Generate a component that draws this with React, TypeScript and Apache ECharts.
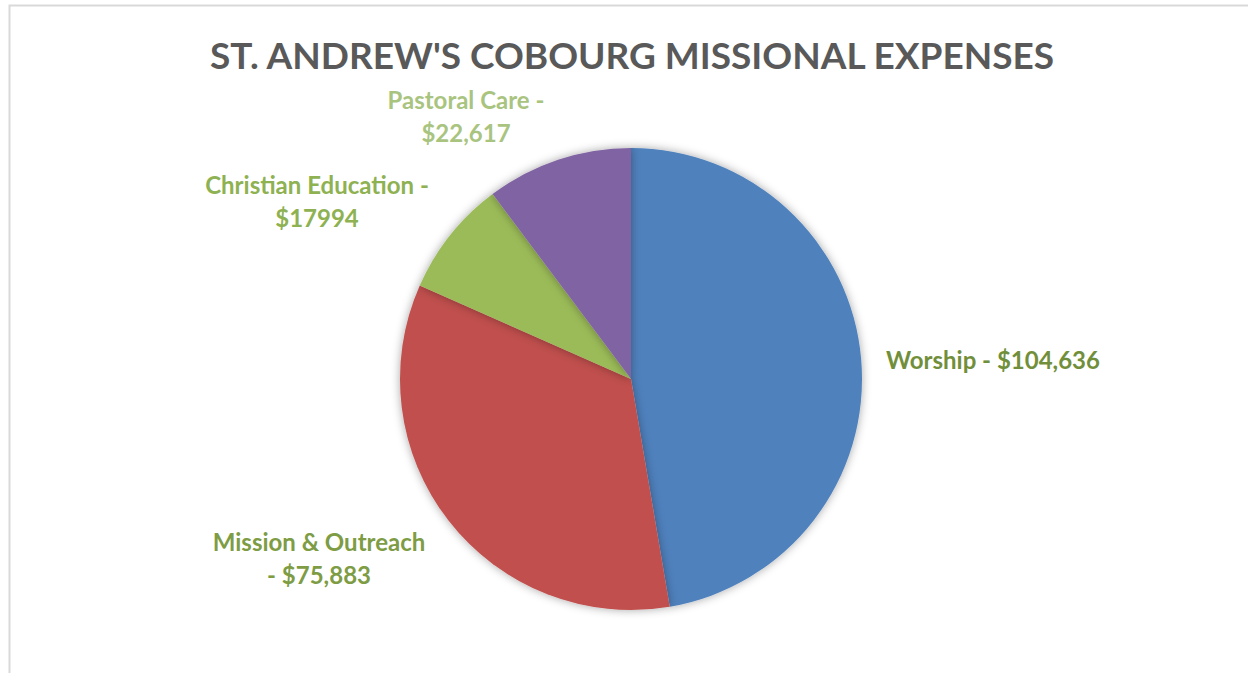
import React, { useEffect, useRef } from "react";
import * as echarts from "echarts";

const categories = ["Worship", "Mission & Outreach", "Christian Education", "Pastoral Care"];
const values = [104636, 75883, 17994, 22617];
const labelTexts = ["Worship - $104,636", "Mission & Outreach\n- $75,883", "Christian Education -\n$17994", "Pastoral Care -\n$22,617"];
const sliceColors = ["#4f81bd", "#c0504d", "#9bbb59", "#8064a2"];
const labelColors = ["#718f3b", "#7d9c44", "#8eb152", "#a9c47f"];
// label anchor positions (layout style)
const labelPos = [
  { x: 886, y: 359, align: "left" },
  { x: 319, y: 558, align: "center" },
  { x: 317, y: 201, align: "center" },
  { x: 466, y: 116, align: "center" },
];

const FONT = "Lato, 'Open Sans', sans-serif";

export default function App() {
  const ref = useRef<HTMLDivElement>(null);
  useEffect(() => {
    document.body.style.margin = "0";
    const chart = echarts.init(ref.current!, undefined, { renderer: "svg" });
    chart.setOption({
      animation: false,
      backgroundColor: "#ffffff",
      title: {
        text: "ST. ANDREW'S COBOURG MISSIONAL EXPENSES",
        left: 205,
        top: 31,
        textStyle: { fontFamily: FONT, fontWeight: "bold", fontSize: 37, color: "#595959" },
      },
      graphic: [
        {
          type: "rect",
          shape: { x: 9.5, y: 5.5, width: 1260, height: 700 },
          style: { fill: "none", stroke: "#d9d9d9", lineWidth: 2 },
          silent: true,
        },
      ],
      series: [
        {
          type: "pie",
          center: [631, 379],
          radius: 231,
          startAngle: 90,
          clockwise: true,
          data: categories.map((c, i) => ({
            name: c,
            value: values[i],
            itemStyle: { color: sliceColors[i] },
            label: { color: labelColors[i] },
          })),
          itemStyle: {
            borderWidth: 0,
            shadowBlur: 10,
            shadowColor: "rgba(0,0,0,0.35)",
            shadowOffsetX: 0,
            shadowOffsetY: 0,
          },
          label: {
            show: true,
            position: "outside",
            formatter: (p: any) => labelTexts[p.dataIndex],
            fontFamily: FONT,
            fontWeight: "bold",
            fontSize: 24,
            lineHeight: 33,
            align: "center",
          },
          labelLine: { show: false },
          labelLayout: (p: any) => {
            const lp = labelPos[p.dataIndex];
            return { x: lp.x, y: lp.y, align: lp.align, verticalAlign: "middle" };
          },
          emphasis: { disabled: true },
        },
      ],
    });
    return () => chart.dispose();
  }, []);
  return <div ref={ref} style={{ width: 1248, height: 673 }} />;
}
